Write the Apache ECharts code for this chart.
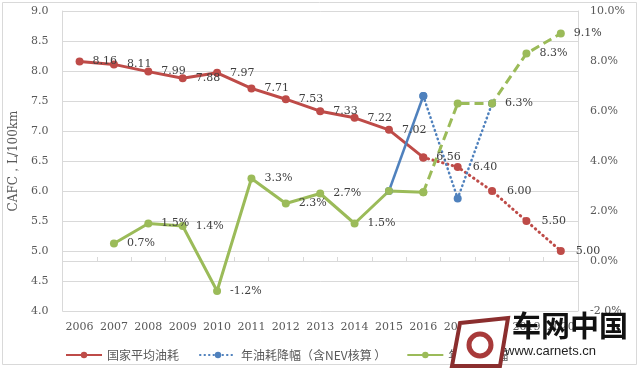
<!DOCTYPE html>
<html><head><meta charset="utf-8">
<script src="https://cdn.jsdelivr.net/npm/echarts@6/dist/echarts.min.js"></script>
<style>html,body{margin:0;padding:0;background:#fff}#c{width:640px;height:368px}</style>
</head><body><div id="c"></div>
<script>
const years = ['2006','2007','2008','2009','2010','2011','2012','2013','2014','2015','2016','2017','2018','2019','2020'];
const cafcActual = [8.16,8.11,7.99,7.88,7.97,7.71,7.53,7.33,7.22,7.02,6.56,null,null,null,null];
const cafcTarget = [null,null,null,null,null,null,null,null,null,null,6.56,6.40,6.00,5.50,5.00];
const nevSolid = [null,null,null,null,null,null,null,null,null,2.8,6.6,null,null,null,null];
const nevDotted = [null,null,null,null,null,null,null,null,null,null,6.6,2.5,6.3,null,null];
const declActual = [null,0.7,1.5,1.4,-1.2,3.3,2.3,2.7,1.5,2.8,2.75,null,null,null,null];
const declTarget = [null,null,null,null,null,null,null,null,null,null,2.75,6.3,6.3,8.3,9.1];
const hideGreenSolid = [9,10];
const hideGreenDashed = [10,11];
const hideRedDotted = [10];

const RED='#BE4B48', BLUE='#4F81BD', GREEN='#9BBB59';
const SERIF='DejaVu Serif';
const lblBase = {show:true, position:'right', distance:9, fontFamily:SERIF, fontSize:11, color:'#404040'};

function withHidden(arr, hide){
  return arr.map((v,i)=> (hide.indexOf(i)>=0 && v!=null) ? {value:v, label:{show:false}} : v);
}

const chart = echarts.init(document.getElementById('c'));
chart.setOption({
  animation:false,
  backgroundColor:'#fff',
  grid:{left:58, right:62, top:11, bottom:57},
  xAxis:{
    type:'category', data:years, boundaryGap:true,
    axisLine:{lineStyle:{color:'#d9d9d9'}},
    axisTick:{show:true, inside:true, length:4, lineStyle:{color:'#d9d9d9'}},
    axisLabel:{fontFamily:SERIF, fontSize:11, color:'#595959', margin:11, interval:0}
  },
  yAxis:[{
    type:'value', min:4, max:9, interval:0.5, position:'left',
    name:'CAFC，L/100km', nameLocation:'middle', nameGap:37, nameRotate:90,
    nameTextStyle:{fontFamily:SERIF, fontSize:12, color:'#595959'},
    axisLine:{show:true, lineStyle:{color:'#d9d9d9'}},
    axisTick:{show:false},
    splitLine:{lineStyle:{color:'#d9d9d9'}},
    axisLabel:{fontFamily:SERIF, fontSize:11, color:'#595959', margin:14, formatter:v=>v.toFixed(1)}
  },{
    type:'value', min:-2, max:10, interval:2, position:'right',
    axisLine:{show:true, lineStyle:{color:'#d9d9d9'}},
    axisTick:{show:false},
    splitLine:{show:false},
    axisLabel:{fontFamily:SERIF, fontSize:11, color:'#595959', margin:12, formatter:v=>v.toFixed(1)+'%'}
  }],
  legend:{
    data:['国家平均油耗','年油耗降幅（含NEV核算 ）','年油耗降幅'],
    left:60, top:344, itemWidth:36, itemHeight:8, itemGap:20,
    textStyle:{fontFamily:'Noto Sans CJK SC', fontSize:12, color:'#595959'}
  },
  series:[
    {name:'国家平均油耗', type:'line', data:cafcActual, yAxisIndex:0,
     symbol:'circle', symbolSize:8, itemStyle:{color:RED}, lineStyle:{color:RED, width:3},
     label:Object.assign({}, lblBase, {formatter:p=>p.value.toFixed(2)})},
    {name:'国家平均油耗目标', type:'line', data:withHidden(cafcTarget, hideRedDotted), yAxisIndex:0,
     symbol:'circle', symbolSize:8, itemStyle:{color:RED}, lineStyle:{color:RED, width:3, type:[0.5,4.5], cap:'round'},
     label:Object.assign({}, lblBase, {distance:11, formatter:p=>p.value.toFixed(2)})},
    {name:'NEV实际', type:'line', data:nevSolid, yAxisIndex:1,
     symbol:'circle', symbolSize:8, itemStyle:{color:BLUE}, lineStyle:{color:BLUE, width:2.5}},
    {name:'年油耗降幅（含NEV核算 ）', type:'line', data:nevDotted, yAxisIndex:1,
     symbol:'circle', symbolSize:8, itemStyle:{color:BLUE}, lineStyle:{color:BLUE, width:2.5, type:[0.5,4], cap:'round'}},
    {name:'年油耗降幅', type:'line', data:withHidden(declActual, hideGreenSolid), yAxisIndex:1,
     symbol:'circle', symbolSize:8, itemStyle:{color:GREEN}, lineStyle:{color:GREEN, width:3},
     label:Object.assign({}, lblBase, {formatter:p=>p.value.toFixed(1)+'%'})},
    {name:'年油耗降幅目标', type:'line', data:withHidden(declTarget, hideGreenDashed), yAxisIndex:1,
     symbol:'circle', symbolSize:8, itemStyle:{color:GREEN}, lineStyle:{color:GREEN, width:3, type:[9,5]},
     label:Object.assign({}, lblBase, {formatter:p=>p.value.toFixed(1)+'%'})}
  ],
  graphic:[
    {type:'rect', shape:{x:2.5, y:2.5, width:634, height:362}, style:{fill:'none', stroke:'#d9d9d9', lineWidth:1}, z:-1},
    {type:'polygon', shape:{points:[[460,323],[508,318],[500,366],[452,366]]}, style:{fill:'#fff', stroke:'#8B2E2E', lineWidth:4}, z:100},
    {type:'circle', shape:{cx:480, cy:345, r:11}, style:{fill:'none', stroke:'#A83A3A', lineWidth:5}, z:101},
    {type:'text', left:512, top:311, style:{text:'车网中国', font:'bold 29px "Noto Sans CJK SC"', fill:'#111'}, z:101},
    {type:'text', left:505, top:345, style:{text:'www.carnets.cn', font:'13px "Liberation Sans"', fill:'#222'}, z:101}
  ]
});
</script></body></html>
